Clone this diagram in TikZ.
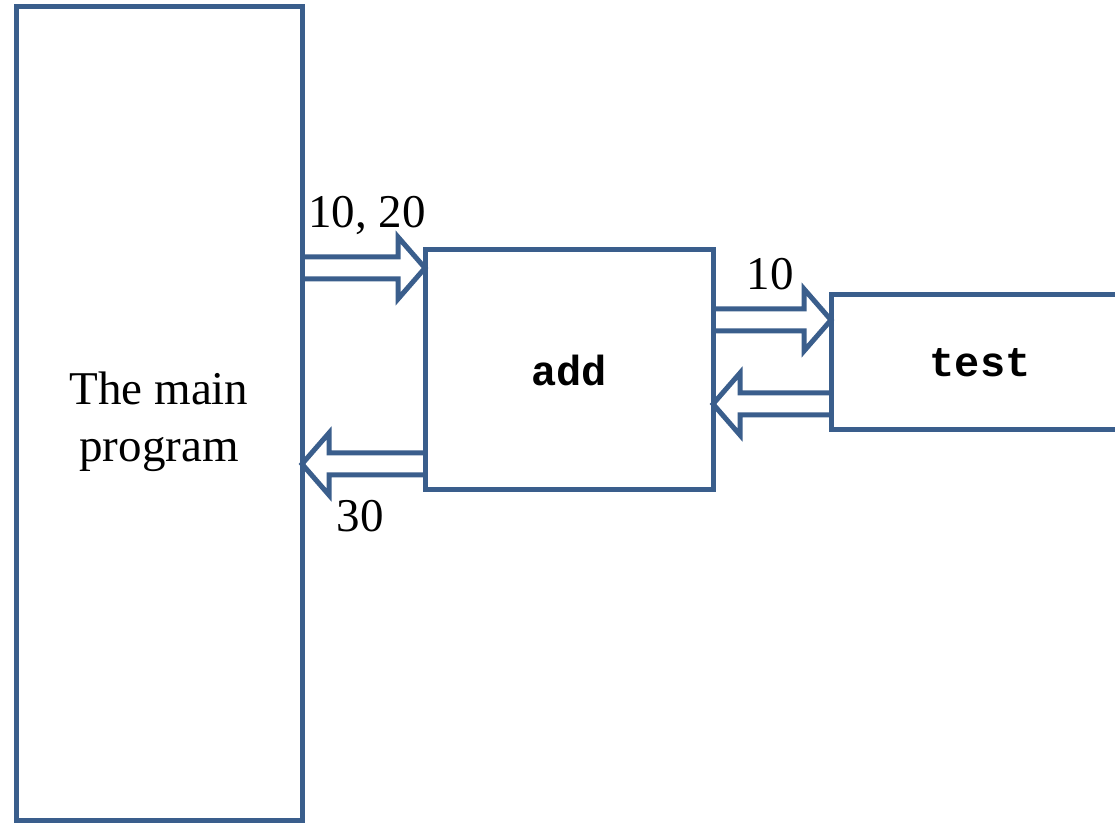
\documentclass[tikz,border=0pt]{standalone}
\usepackage{fontspec}
\setmainfont{Liberation Serif}
\setmonofont{Liberation Mono}
\usetikzlibrary{calc}
\definecolor{boxblue}{RGB}{58,94,140}
\tikzset{
  box/.style={draw=boxblue, line width=5pt, rectangle, inner sep=0pt, outer sep=0pt},
  arrowline/.style={draw=boxblue, line width=5pt, line join=miter},
  lbl/.style={font=\fontsize{47}{56}\selectfont, inner sep=0pt, anchor=base},
  codefont/.style={font=\fontsize{42}{48}\selectfont\ttfamily\bfseries}
}
\newcommand\blockarr[2]{%
  \draw[arrowline] let \p1=(#1), \p2=(#2), \n1={sign(\x2-\x1)} in
    (\x1,\y1+11pt) -- (\x2-\n1*27pt,\y1+11pt) -- (\x2-\n1*27pt,\y1+31pt) --
    (\x2,\y1) -- (\x2-\n1*27pt,\y1-31pt) -- (\x2-\n1*27pt,\y1-11pt) -- (\x1,\y1-11pt);}
\begin{document}
\begin{tikzpicture}[x=1pt,y=1pt]
\useasboundingbox (0,0) rectangle (1115,822);
\clip (0,0) rectangle (1115,822);
\node[box, minimum width=286pt, minimum height=813pt] (main) at (159,408.5) {};
\node[align=center, inner sep=0pt, font=\fontsize{47}{57}\selectfont]
  (maintxt) at ([yshift=-8pt]main.center) {The main\\program};
\node[box, minimum width=288pt, minimum height=240pt, codefont] (add) at (569,452) {add};
\node[box, minimum width=298pt, minimum height=135pt, codefont] (test) at (980,459.5) {test};
% arrows
\coordinate (a1s) at (main.east |- 0,554);
\coordinate (a1t) at (add.west |- 0,554);
\coordinate (a2s) at (add.west |- 0,358);
\coordinate (a2t) at (main.east |- 0,358);
\coordinate (a3s) at (add.east |- 0,502);
\coordinate (a3t) at (test.west |- 0,502);
\coordinate (a4s) at (test.west |- 0,418);
\coordinate (a4t) at (add.east |- 0,418);
\blockarr{a1s}{a1t}
\blockarr{a2s}{a2t}
\blockarr{a3s}{a3t}
\blockarr{a4s}{a4t}
% labels
\node[lbl] (l1) at (367,594) {10, 20};
\node[lbl] (l2) at (770,532) {10};
\node[lbl] (l3) at (360,290) {30};
\end{tikzpicture}
\end{document}
